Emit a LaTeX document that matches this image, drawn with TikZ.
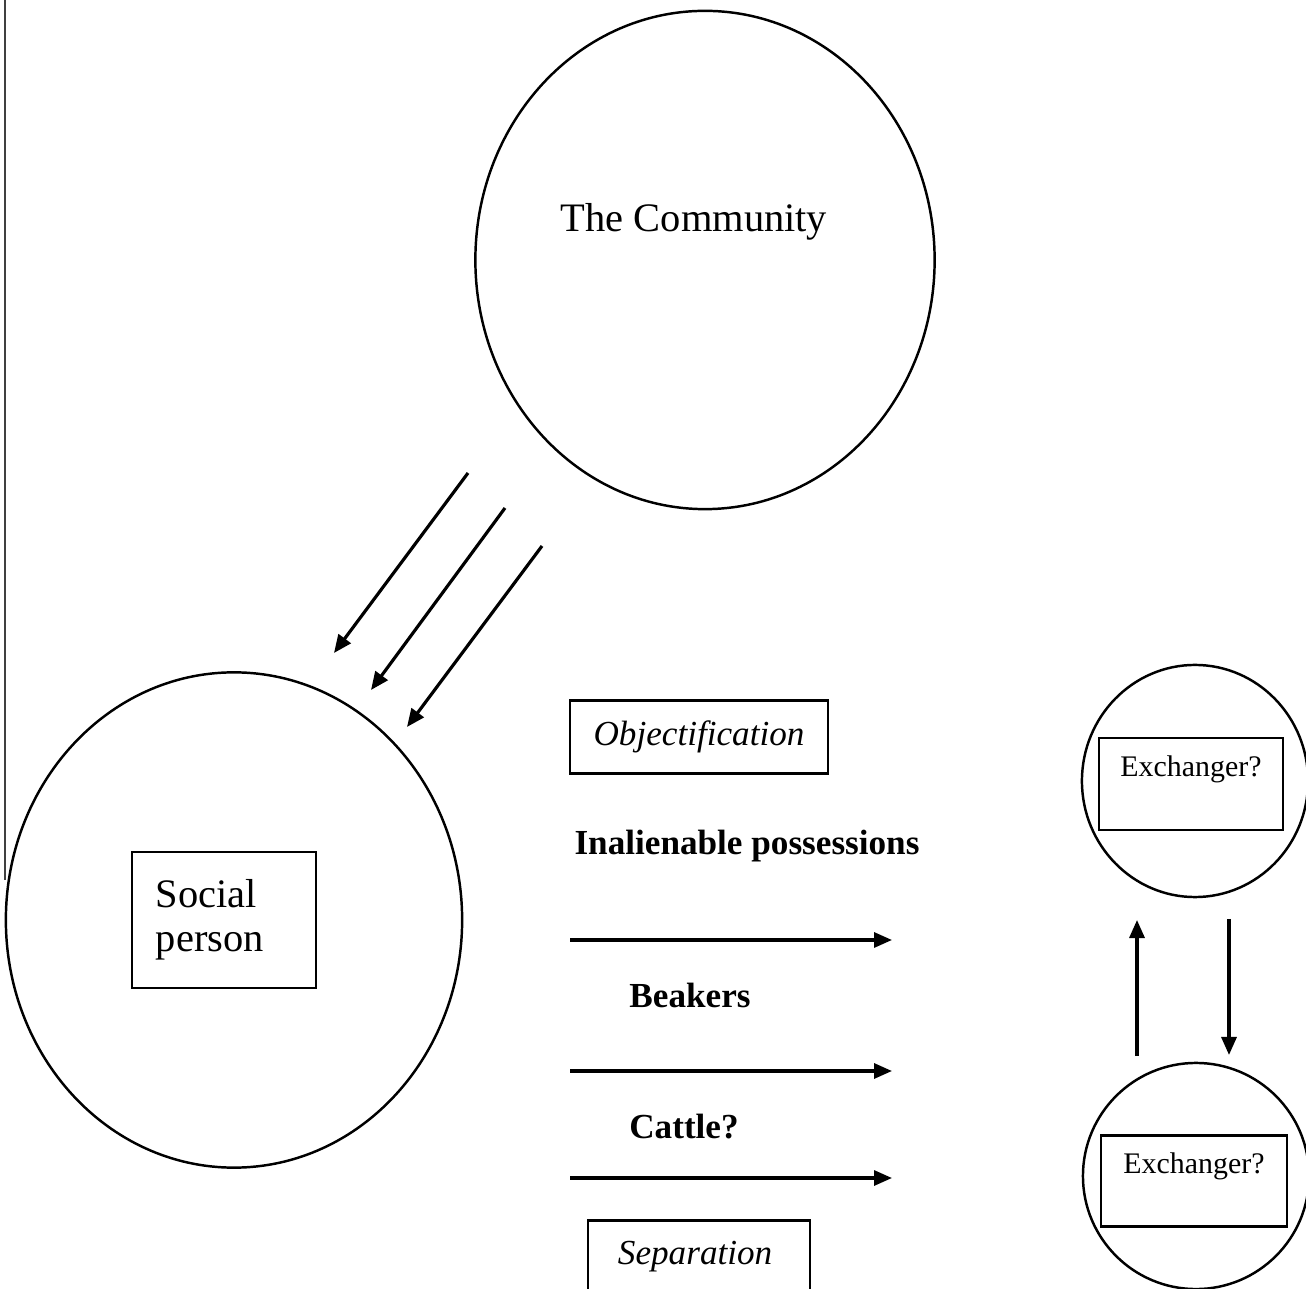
\documentclass[tikz,border=0pt]{standalone}
\usepackage{fontspec}
\setmainfont{Liberation Serif}
\usetikzlibrary{arrows.meta, shapes.geometric, positioning}

\begin{document}
\begin{tikzpicture}[x=0.01cm, y=-0.01cm, >={Triangle[length=1.8mm, width=1.5mm]},
  bubble/.style={ellipse, draw, line width=0.7pt, inner sep=0pt},
  frame/.style={draw, line width=0.7pt, inner sep=0pt},
  flow/.style={->, line width=0.9pt},
  big/.style={font=\fontsize{11.5}{12.5}\selectfont},
  item/.style={font=\fontsize{10}{12}\selectfont\bfseries},
  tag/.style={font=\fontsize{10}{12}\selectfont\itshape},
  small/.style={font=\fontsize{8.5}{10}\selectfont, align=center}]
  \useasboundingbox (0,0) rectangle (1306,1289);
  \draw[line width=0.7pt, black!75] (5,0) -- (5,880);

  % community and person
  \node[bubble, minimum width=4.59cm, minimum height=4.98cm] (comm) at (705,260) {};
  \node[big] (commtxt) at (694,222) {The Community};
  \node[bubble, minimum width=4.56cm, minimum height=4.95cm] (person) at (234,920) {};
  \node[frame, big, minimum width=1.82cm, minimum height=1.36cm, text width=1.36cm,
        inner xsep=0.24cm, align=left] (persbox) at (224,920) {Social\\person};

  % three arrows from the community
  \coordinate (s1) at (468,473); \coordinate (e1) at (334,653);
  \coordinate (s2) at (505,508); \coordinate (e2) at (371,690);
  \coordinate (s3) at (542,546); \coordinate (e3) at (407,727);
  \draw[flow] (s1) -- (e1);
  \draw[flow] (s2) -- (e2);
  \draw[flow] (s3) -- (e3);

  % middle column
  \node[frame, tag, minimum width=2.58cm, minimum height=0.73cm] (obj) at (699,737) {Objectification};
  \node[item] (inal) at (747,846) {Inalienable possessions};
  \node[item] (beak) at (690,995) {Beakers};
  \node[item] (cattle) at (684,1127) {Cattle?};
  \node[frame, tag, minimum width=2.22cm, minimum height=0.73cm, text width=1.62cm,
        inner xsep=0.24cm] (sep) at (699,1257) {Separation};

  \coordinate (h1s) at (570,940);  \coordinate (h1e) at (892,940);
  \coordinate (h2s) at (570,1071); \coordinate (h2e) at (892,1071);
  \coordinate (h3s) at (570,1178); \coordinate (h3e) at (892,1178);
  \draw[flow] (h1s) -- (h1e);
  \draw[flow] (h2s) -- (h2e);
  \draw[flow] (h3s) -- (h3e);

  % exchangers
  \node[bubble, minimum width=2.26cm, minimum height=2.32cm] (exA) at (1195,781) {};
  \node[frame, small, minimum width=1.84cm, minimum height=0.92cm] (boxA) at (1191,784) {Exchanger?\\ \mbox{}};
  \node[bubble, minimum width=2.26cm, minimum height=2.26cm] (exB) at (1196,1176) {};
  \node[frame, small, minimum width=1.86cm, minimum height=0.91cm] (boxB) at (1194,1181) {Exchanger?\\ \mbox{}};

  \coordinate (us) at (1137,1056); \coordinate (ue) at (1137,920);
  \coordinate (ds) at (1229,919);  \coordinate (de) at (1229,1055);
  \draw[flow] (us) -- (ue);
  \draw[flow] (ds) -- (de);
\end{tikzpicture}
\end{document}
